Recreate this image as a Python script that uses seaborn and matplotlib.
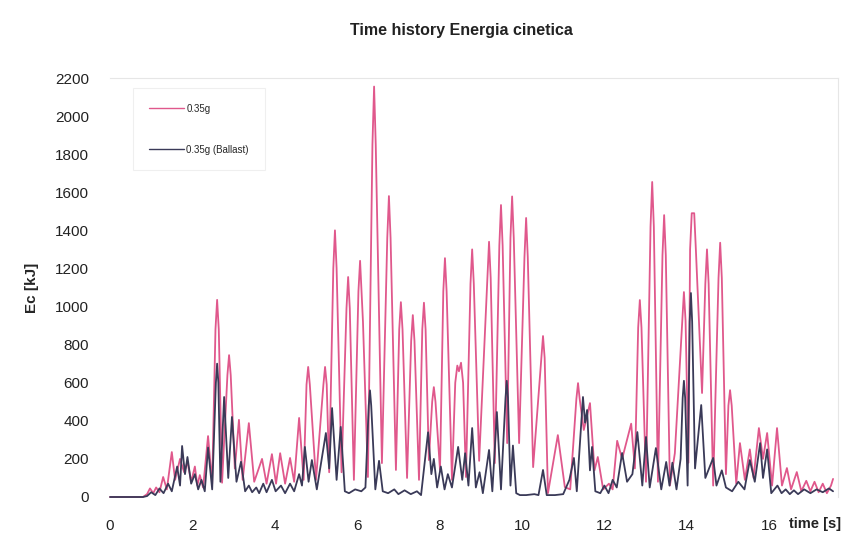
import matplotlib
matplotlib.use("Agg")
import matplotlib.pyplot as plt
from matplotlib.lines import Line2D
import seaborn as sns
import pandas as pd

# ---- data (time [s], Ec [kJ]) ----
pink_points = [
    (0.0, 0), (0.8, 0), (0.9, 15), (0.97, 45), (1.05, 20), (1.12, 50), (1.2, 25),
    (1.29, 105), (1.38, 40), (1.5, 236), (1.58, 90), (1.7, 200), (1.8, 130), (1.88, 185),
    (1.97, 80), (2.06, 160), (2.12, 60), (2.18, 115), (2.26, 50), (2.38, 320), (2.48, 70),
    (2.56, 880), (2.60, 1035), (2.64, 880), (2.72, 75), (2.85, 640), (2.89, 745),
    (2.93, 640), (3.03, 150), (3.13, 405), (3.22, 90), (3.37, 388), (3.50, 80),
    (3.69, 200), (3.80, 70), (3.93, 225), (4.03, 70), (4.13, 230), (4.25, 70),
    (4.37, 205), (4.47, 80), (4.59, 415), (4.70, 90), (4.77, 590), (4.81, 683),
    (4.85, 590), (5.00, 90), (5.18, 590), (5.22, 683), (5.26, 590), (5.32, 130),
    (5.42, 1200), (5.46, 1400), (5.50, 1200), (5.62, 130), (5.74, 990), (5.78, 1155),
    (5.82, 990), (5.92, 90), (6.03, 1080), (6.07, 1240), (6.10, 1100), (6.14, 920),
    (6.26, 105), (6.37, 1850), (6.41, 2155), (6.45, 1850), (6.60, 178), (6.73, 1360),
    (6.77, 1580), (6.81, 1360), (6.94, 142), (7.02, 880), (7.06, 1023), (7.10, 880),
    (7.21, 100), (7.31, 820), (7.35, 955), (7.39, 820), (7.50, 90), (7.58, 880),
    (7.62, 1020), (7.66, 880), (7.74, 194), (7.82, 500), (7.86, 577), (7.90, 500),
    (8.01, 142), (8.09, 1080), (8.13, 1254), (8.17, 1080), (8.30, 90), (8.38, 600),
    (8.43, 690), (8.47, 660), (8.52, 705), (8.57, 600), (8.64, 105), (8.75, 1120),
    (8.79, 1300), (8.83, 1120), (8.96, 190), (9.16, 1150), (9.20, 1340), (9.24, 1150),
    (9.34, 178), (9.45, 1320), (9.49, 1533), (9.53, 1320), (9.64, 283), (9.72, 1360),
    (9.76, 1578), (9.80, 1360), (9.93, 283), (10.06, 1260), (10.10, 1465), (10.14, 1260),
    (10.27, 157), (10.47, 730), (10.51, 845), (10.55, 730), (10.63, 20), (10.87, 325),
    (11.04, 52), (11.17, 40), (11.32, 515), (11.36, 598), (11.40, 515), (11.50, 352),
    (11.65, 493), (11.76, 140), (11.84, 210), (11.97, 40), (12.11, 70), (12.20, 40),
    (12.31, 295), (12.43, 200), (12.65, 385), (12.74, 150), (12.82, 890), (12.86, 1034),
    (12.90, 890), (13.01, 80), (13.12, 1420), (13.16, 1654), (13.20, 1420), (13.30, 80),
    (13.41, 1270), (13.45, 1480), (13.49, 1270), (13.59, 60), (13.71, 230), (13.89, 925),
    (13.93, 1076), (13.97, 925), (14.04, 180), (14.08, 1300), (14.12, 1490),
    (14.18, 1490), (14.22, 1300), (14.37, 546), (14.45, 1120), (14.49, 1300),
    (14.53, 1120), (14.64, 60), (14.77, 1150), (14.81, 1335), (14.85, 1150), (14.95, 120),
    (15.01, 480), (15.05, 561), (15.09, 480), (15.20, 70), (15.29, 283), (15.41, 90),
    (15.53, 250), (15.62, 100), (15.75, 362), (15.85, 200), (15.95, 336), (16.07, 60),
    (16.19, 362), (16.31, 60), (16.43, 152), (16.53, 40), (16.67, 131), (16.78, 30),
    (16.90, 85), (17.0, 30), (17.1, 80), (17.2, 25), (17.3, 70), (17.4, 20), (17.5, 60),
    (17.55, 95),
]

dark_points = [
    (0.0, 0), (0.8, 0), (0.9, 5), (1.0, 25), (1.1, 10), (1.2, 45), (1.3, 20), (1.41, 70),
    (1.5, 30), (1.63, 160), (1.70, 60), (1.75, 268), (1.82, 120), (1.88, 210), (1.97, 70),
    (2.06, 120), (2.14, 40), (2.22, 90), (2.30, 30), (2.38, 260), (2.48, 40), (2.57, 600),
    (2.60, 700), (2.63, 600), (2.68, 80), (2.77, 525), (2.87, 100), (2.96, 420),
    (3.07, 80), (3.18, 185), (3.28, 30), (3.37, 60), (3.45, 25), (3.55, 50), (3.62, 20),
    (3.72, 70), (3.80, 25), (3.93, 90), (4.02, 30), (4.15, 60), (4.25, 20), (4.37, 70),
    (4.47, 30), (4.59, 120), (4.66, 60), (4.73, 263), (4.82, 80), (4.90, 194), (5.02, 40),
    (5.24, 336), (5.32, 150), (5.39, 467), (5.50, 90), (5.60, 368), (5.70, 30),
    (5.80, 20), (5.95, 40), (6.10, 30), (6.20, 50), (6.28, 480), (6.31, 560), (6.34, 480),
    (6.44, 40), (6.53, 190), (6.62, 30), (6.75, 20), (6.90, 40), (7.00, 15), (7.15, 35),
    (7.30, 15), (7.45, 30), (7.55, 10), (7.72, 340), (7.80, 120), (7.86, 200), (7.94, 50),
    (8.03, 160), (8.12, 40), (8.20, 120), (8.30, 50), (8.45, 263), (8.55, 90), (8.62, 230),
    (8.70, 60), (8.79, 362), (8.88, 50), (8.97, 130), (9.05, 20), (9.20, 247), (9.28, 30),
    (9.39, 446), (9.49, 40), (9.60, 520), (9.63, 610), (9.66, 520), (9.72, 60),
    (9.78, 270), (9.86, 20), (9.95, 10), (10.1, 10), (10.3, 15), (10.4, 10), (10.51, 142),
    (10.6, 10), (10.8, 10), (11.0, 15), (11.15, 90), (11.26, 205), (11.33, 30),
    (11.48, 525), (11.53, 390), (11.58, 457), (11.65, 140), (11.70, 263), (11.78, 30),
    (11.9, 20), (12.0, 60), (12.1, 20), (12.2, 90), (12.3, 50), (12.43, 231), (12.55, 80),
    (12.68, 120), (12.80, 341), (12.92, 60), (13.01, 315), (13.10, 50), (13.25, 257),
    (13.38, 40), (13.50, 184), (13.58, 60), (13.65, 180), (13.75, 40), (13.85, 200),
    (13.90, 520), (13.93, 610), (13.96, 520), (14.02, 60), (14.07, 920), (14.10, 1071),
    (14.13, 920), (14.20, 150), (14.35, 483), (14.45, 100), (14.64, 205), (14.72, 60),
    (14.85, 140), (14.95, 50), (15.10, 30), (15.25, 80), (15.40, 40), (15.53, 194),
    (15.65, 80), (15.78, 283), (15.85, 100), (15.95, 250), (16.05, 20), (16.2, 60),
    (16.3, 20), (16.4, 40), (16.5, 15), (16.6, 35), (16.7, 15), (16.85, 40), (17.0, 20),
    (17.15, 40), (17.3, 25), (17.45, 45), (17.55, 30),
]

series_labels = ["0.35g", "0.35g (Ballast)"]
yticks = [0, 200, 400, 600, 800, 1000, 1200, 1400, 1600, 1800, 2000, 2200]
xticks = [0, 2, 4, 6, 8, 10, 12, 14, 16]

df = pd.concat([
    pd.DataFrame(pink_points, columns=["t", "ec"]).assign(serie=series_labels[0]),
    pd.DataFrame(dark_points, columns=["t", "ec"]).assign(serie=series_labels[1]),
], ignore_index=True)

sns.set_style("white")
plt.rcParams["font.family"] = ["Liberation Sans", "DejaVu Sans"]

fig = plt.figure(figsize=(8.64, 5.39), dpi=100)
ax = fig.add_axes([110 / 864, 1 - 497 / 539, 728 / 864, 419 / 539])

palette = {series_labels[0]: "#e0588c", series_labels[1]: "#3a3a58"}
sns.lineplot(data=df, x="t", y="ec", hue="serie", palette=palette, ax=ax,
             linewidth=1.3, sort=False, estimator=None, legend=False)
for ln in ax.lines:
    ln.set_clip_on(False)
    ln.set_solid_joinstyle("round")

ax.set_xlim(0, 17.67)
ax.set_ylim(0, 2200)
ax.set_xticks(xticks)
ax.set_yticks(yticks)
ax.set_xticklabels([str(v) for v in xticks], fontsize=11, color="#222222")
ax.set_yticklabels([str(v) for v in yticks], fontsize=11, color="#222222")
ax.tick_params(axis="x", length=0, pad=16)
ax.tick_params(axis="y", length=0, pad=15)
ax.set_xlabel("")
ax.set_ylabel("Ec [kJ]", fontsize=11, fontweight="bold", labelpad=12)
for sp in ax.spines.values():
    sp.set_color("#e6e6e6")
    sp.set_linewidth(0.8)
ax.spines["left"].set_visible(False)
ax.spines["bottom"].set_visible(False)

fig.text(815 / 864, 1 - 524 / 539, "time [s]", fontsize=10.5, fontweight="bold",
         ha="center", va="center", color="#222222")
fig.text(461 / 864, 1 - 31 / 539, "Time history Energia cinetica", fontsize=11.5,
         fontweight="bold", ha="center", va="center", color="#222222")

handles = [Line2D([], [], color=palette[s], linewidth=1.0) for s in series_labels]
leg = ax.legend(handles, series_labels, loc="upper left",
                bbox_to_anchor=((133 - 110) / 728, (497 - 88) / 419),
                fontsize=7, frameon=True, fancybox=False, handlelength=3.6,
                handletextpad=0.3, labelspacing=3.2, borderpad=1.6,
                borderaxespad=0)
leg.get_frame().set_edgecolor("#ececec")
leg.get_frame().set_linewidth(0.8)

fig.savefig("out.png", dpi=100)
